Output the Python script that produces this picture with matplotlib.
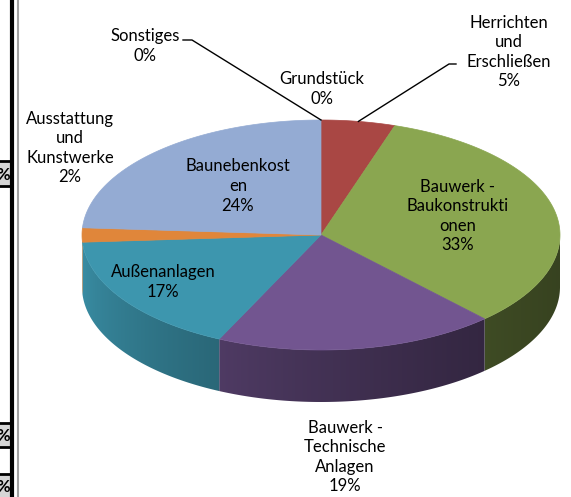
import numpy as np
import matplotlib
matplotlib.use('Agg')
import matplotlib.pyplot as plt
from matplotlib.patches import Polygon, Rectangle
from matplotlib.colors import to_rgb

# Kostengruppen (Reihenfolge im Uhrzeigersinn ab 12 Uhr)
categories = ['Grundstück', 'Herrichten und Erschließen', 'Bauwerk - Baukonstruktionen',
              'Bauwerk - Technische Anlagen', 'Außenanlagen', 'Ausstattung und Kunstwerke',
              'Baunebenkosten', 'Sonstiges']
values = [0, 5, 33, 19, 17, 2, 24, 0]
label_texts = ['Grundstück\n0%', 'Herrichten\nund\nErschließen\n5%',
               'Bauwerk -\nBaukonstrukti\nonen\n33%', 'Bauwerk -\nTechnische\nAnlagen\n19%',
               'Außenanlagen\n17%', 'Ausstattung\nund\nKunstwerke\n2%',
               'Baunebenkost\nen\n24%', 'Sonstiges\n0%']
colors = ['#4f81bd', '#a94744', '#8aa650', '#725590', '#3d96ae', '#e0863a', '#94abd3', '#4f81bd']

# layout (pixel coordinates, y pointing down)
W, H = 571, 497
cx, cy, rx, ry, depth = 321, 235, 239, 115, 52
label_xy = [(322, 89), (509, 52), (458, 216), (345, 457),
            (163, 282), (70, 148), (238, 186), (145, 46)]
leaders = {7: [(183, 40), (192, 40)], 1: [(456, 64), (449, 64)]}

plt.rcParams['font.family'] = ['Lato', 'DejaVu Sans']

fig = plt.figure(figsize=(W / 100, H / 100), dpi=100)
ax = fig.add_axes([0, 0, 1, 1])
ax.set_xlim(0, W)
ax.set_ylim(H, 0)
ax.axis('off')


def pt(t, dy=0):
    r = np.radians(t)
    return cx + rx * np.sin(r), cy - ry * np.cos(r) + dy


total = sum(values)
bounds = np.concatenate([[0], np.cumsum(values)]) / total * 360

# side walls (front half only), shaded darker to the right
for i, v in enumerate(values):
    a, b = max(bounds[i], 90), min(bounds[i + 1], 270)
    if b <= a:
        continue
    ts = np.linspace(a, b, max(3, int((b - a) * 2)))
    top = [pt(t) for t in ts]
    bot = [pt(t, depth) for t in ts[::-1]]
    poly = Polygon(top + bot, closed=True, facecolor='none', edgecolor='none')
    ax.add_patch(poly)
    xs = [p[0] for p in top]
    x0, x1 = min(xs) - 1, max(xs) + 1
    ys = [p[1] for p in top + bot]
    y0, y1 = min(ys) - 1, max(ys) + 1
    gx = np.linspace(x0, x1, 200)
    s = np.clip((gx - (cx - rx)) / (2 * rx), 0, 1)
    m = 0.95 - 0.55 * s ** 0.6
    img = np.array(to_rgb(colors[i]))[None, :] * m[:, None]
    im = ax.imshow(img[None, :, :], extent=[x0, x1, y1, y0], aspect='auto',
                   interpolation='bilinear', zorder=1)
    im.set_clip_path(poly)

ax.set_xlim(0, W)
ax.set_ylim(H, 0)

# top faces
for i, v in enumerate(values):
    if v == 0:
        continue
    ts = np.linspace(bounds[i], bounds[i + 1], max(3, int(v * 4)))
    pts = [(cx, cy)] + [pt(t) for t in ts]
    ax.add_patch(Polygon(pts, closed=True, facecolor=colors[i], edgecolor=colors[i],
                         lw=0.5, zorder=2))

# labels
for i, txt in enumerate(label_texts):
    ax.text(label_xy[i][0], label_xy[i][1], txt, ha='center', va='center',
            fontsize=12, linespacing=1.27, color='black', zorder=4)

# leader lines
for i, seg in leaders.items():
    mid = (bounds[i] + bounds[i + 1]) / 2
    ex, ey = pt(mid)
    xs = [p[0] for p in seg] + [ex]
    ys = [p[1] for p in seg] + [ey]
    ax.plot(xs, ys, color='black', lw=1, zorder=3)

# cropped neighbour cells on the left edge
ax.plot([12, 12], [0, H], color='black', lw=3, solid_capstyle='butt')
ax.plot([18, 18], [0, H], color='#a0a0a0', lw=1.5, solid_capstyle='butt')
for y0, y1 in [(161, 186), (423, 447), (474, 499)]:
    ax.add_patch(Rectangle((-5, y0), 16, y1 - y0, facecolor='#d6d6d6', edgecolor='black', lw=2))
    ax.text(10, (y0 + y1) / 2 + 1, '%', ha='right', va='center', fontsize=12,
            fontweight='bold', clip_on=True)

fig.savefig('out.png', dpi=100)
